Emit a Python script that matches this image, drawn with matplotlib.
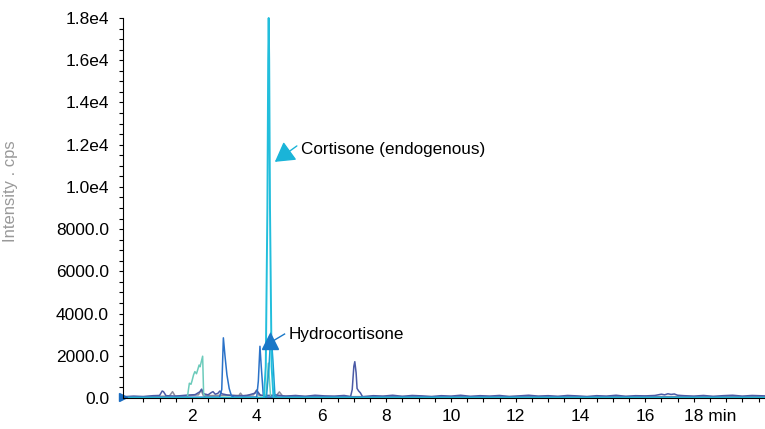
import numpy as np
import matplotlib.pyplot as plt

plt.rcParams['font.family'] = ['Liberation Sans', 'DejaVu Sans']

# --- chromatogram traces (time in min, intensity in cps) ---
# slate trace: peak at 7.0 min + baseline noise
t_slate = [-0.13, 0.2, 0.5, 0.8, 1.0, 1.08, 1.12, 1.2, 1.5, 1.8, 2.1, 2.25, 2.3, 2.36,
           2.5, 2.6, 2.65, 2.72, 2.8, 2.86, 2.92, 3.1, 3.4, 3.7, 3.95, 4.0, 4.05, 4.12,
           4.3, 4.6, 4.9, 5.2, 5.5, 5.8, 6.1, 6.4, 6.7, 6.9, 6.95, 7.0, 7.03, 7.07, 7.1,
           7.15, 7.2, 7.27, 7.6, 7.9, 8.2, 8.5, 8.8, 9.1, 9.4, 9.7, 10.0, 10.3, 10.6,
           10.9, 11.2, 11.5, 11.8, 12.1, 12.4, 12.7, 13.0, 13.3, 13.6, 13.9, 14.2, 14.5,
           14.8, 15.1, 15.4, 15.7, 16.0, 16.3, 16.5, 16.6, 16.7, 16.8, 16.9, 17.0, 17.2,
           17.5, 17.8, 18.1, 18.4, 18.7, 19.0, 19.3, 19.7]
i_slate = [60, 90, 70, 110, 120, 330, 300, 110, 90, 130, 160, 300, 420, 200,
           150, 260, 300, 180, 220, 330, 200, 140, 100, 120, 230, 360, 260, 120,
           110, 140, 90, 120, 80, 130, 100, 90, 120, 70, 400, 1500, 1720, 1200, 450,
           330, 250, 60, 110, 90, 130, 80, 120, 100, 70, 110, 90, 130, 80,
           110, 90, 120, 70, 100, 130, 90, 110, 80, 120, 100, 70, 110,
           90, 130, 80, 110, 100, 120, 180, 150, 200, 170, 190, 130, 110,
           90, 120, 80, 110, 130, 90, 120, 100]

# grey trace: small bumps in the early region
t_grey = [-0.13, 0.5, 1.0, 1.3, 1.4, 1.48, 1.8, 2.2, 2.28, 2.35, 2.5, 3.0, 3.45, 3.5,
          3.56, 3.9, 4.0, 4.06, 4.6, 4.7, 4.8, 5.5, 6.5, 8.0, 10.0, 12.0, 14.0, 16.0,
          18.0, 19.7]
i_grey = [50, 60, 80, 90, 300, 90, 100, 150, 380, 120, 110, 130, 120, 230,
          100, 150, 380, 140, 100, 290, 90, 70, 60, 70, 60, 70, 60, 70,
          60, 60]

# teal trace: broad hump near 2.2 min and small peak at 4.36 min
t_teal = [-0.13, 1.80, 1.86, 1.92, 1.97, 2.0, 2.05, 2.09, 2.14, 2.18, 2.22, 2.25, 2.33,
          2.36, 2.40, 4.28, 4.33, 4.36, 4.39, 4.43, 19.7]
i_teal = [30, 30, 60, 700, 650, 800, 1100, 1250, 1150, 1350, 1560, 1480, 1980,
          200, 40, 40, 1000, 1650, 900, 40, 30]

# blue trace: peaks at 2.97 and 4.10 min
t_blue = [-0.13, 2.85, 2.92, 2.97, 3.02, 3.08, 3.15, 3.22, 3.3, 4.0, 4.05, 4.1, 4.14,
          4.2, 4.25, 19.7]
i_blue = [30, 40, 400, 2850, 2000, 1100, 450, 100, 40, 40, 800, 2450, 1500,
          200, 40, 30]

# hydrocortisone trace
t_hydro = [-0.13, 4.3, 4.38, 4.44, 4.5, 4.56, 4.62, 19.7]
i_hydro = [10, 10, 1500, 3100, 1800, 200, 10, 10]

# cortisone trace
t_cort = [-0.13, 4.22, 4.28, 4.33, 4.355, 4.37, 4.385, 4.41, 4.46, 4.52, 19.7]
i_cort = [0, 0, 1500, 9000, 16000, 18000, 16000, 9000, 1500, 0, 0]

y_labels = {0: '0.0', 2000: '2000.0', 4000: '4000.0', 6000: '6000.0', 8000: '8000.0',
            10000: '1.0e4', 12000: '1.2e4', 14000: '1.4e4', 16000: '1.6e4', 18000: '1.8e4'}
x_labels = {2: '2', 4: '4', 6: '6', 8: '8', 10: '10', 12: '12', 14: '14', 16: '16',
            18: '18 min'}

fig = plt.figure(figsize=(7.65, 4.29), dpi=100)
ax = fig.add_axes([123 / 765, 31 / 429, 642 / 765, 380 / 429])

lw = 1.1
ax.plot(t_grey, i_grey, color='#8c8c9c', lw=lw, clip_on=False)
ax.plot(t_slate, i_slate, color='#4b5aa6', lw=lw, clip_on=False)
ax.plot(t_teal, i_teal, color='#6ccbbb', lw=lw, clip_on=False)
ax.plot(t_blue, i_blue, color='#2a72c8', lw=lw, clip_on=False)
ax.plot(t_hydro, i_hydro, color='#1aa0d4', lw=lw, clip_on=False)
ax.plot(t_cort, i_cort, color='#22bedc', lw=1.4, clip_on=False)

ax.set_xlim(-0.13, 19.7)
ax.set_ylim(0, 18000)

# small start marker on the axis
ax.plot([-0.13], [60], marker='>', color='#1a6cc0', markersize=6, clip_on=False)

ax.spines['top'].set_visible(False)
ax.spines['right'].set_visible(False)
ax.spines['left'].set_linewidth(0.8)
ax.spines['bottom'].set_linewidth(0.8)

xt = np.arange(0.5, 19.6, 0.5)
ax.set_xticks(xt)
ax.set_xticklabels([x_labels.get(v, '') if float(v).is_integer() else '' for v in xt])
yt = np.arange(0, 18001, 500)
ax.set_yticks(yt)
ax.set_yticklabels([y_labels.get(int(v), '') for v in yt])
ax.tick_params(axis='x', length=3, width=0.8, pad=5, labelsize=12.5)
ax.tick_params(axis='y', length=3, width=0.8, pad=7, labelsize=12.5)

ax.set_ylabel('Intensity . cps', color='#999999', fontsize=12)
ax.yaxis.set_label_coords(-0.164, 0.545)

# annotations
ax.annotate('', xy=(4.56, 11185), xytext=(5.24, 11940),
            arrowprops=dict(arrowstyle='-|>,head_length=0.6,head_width=0.35',
                            color='#1ab4d8', lw=1.0, mutation_scale=20,
                            shrinkA=0, shrinkB=0))
ax.text(5.36, 11750, 'Cortisone (endogenous)', fontsize=12.3, va='center', ha='left')

ax.plot([4.45, 4.86], [2654, 3030], color='#1a78c8', lw=1.0)
ax.plot([4.40], [2700], marker='^', color='#1a78c8', markersize=11)
ax.text(4.99, 2986, 'Hydrocortisone', fontsize=12.3, va='center', ha='left')

fig.savefig('out.png', dpi=100)
